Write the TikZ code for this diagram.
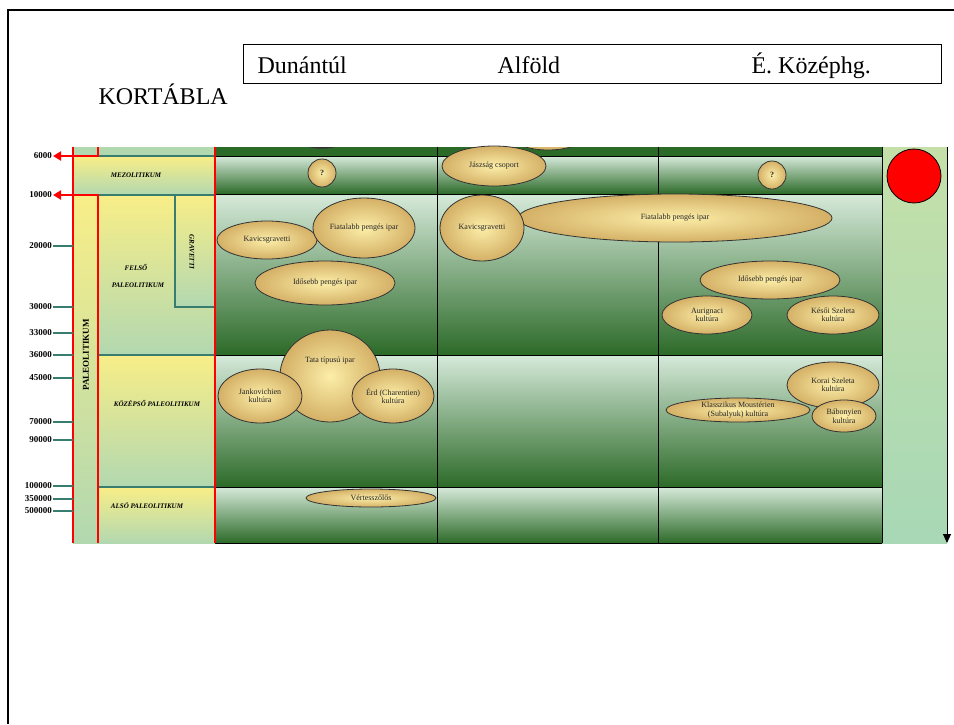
\documentclass[tikz,border=0pt]{standalone}
\usepackage{fontspec}
\setmainfont{Liberation Serif}
\usetikzlibrary{shapes.geometric,arrows.meta}

\definecolor{cellTop}{RGB}{214,234,218}
\definecolor{cellMid}{RGB}{112,160,106}
\definecolor{cellBot}{RGB}{44,106,40}
\definecolor{perYel}{RGB}{248,238,136}
\definecolor{perGrn}{RGB}{178,216,176}
\definecolor{tickTeal}{RGB}{56,126,112}
\definecolor{cultIn}{RGB}{252,238,168}
\definecolor{cultOut}{RGB}{212,176,102}
\definecolor{sideTop}{RGB}{196,224,168}
\definecolor{sideBot}{RGB}{168,216,182}

\begin{document}
\begin{tikzpicture}[x=1pt,y=-1pt,
  cult/.style = {draw=black!80, line width=0.8pt, ellipse, inner sep=0pt,
    inner color=cultIn, outer color=cultOut, align=center, text=black!85,
    font=\fontsize{8}{8.5}\selectfont},
  per/.style = {font=\fontsize{7}{8}\selectfont\bfseries\itshape, inner sep=0pt},
  yr/.style = {anchor=east, font=\fontsize{9}{9}\selectfont\bfseries, inner sep=1pt},
  tick/.style = {tickTeal, line width=2.5pt},
  sep/.style = {tickTeal, line width=2pt},
  redline/.style = {red, line width=2.5pt},
  hdr/.style = {anchor=base west, font=\fontsize{24}{24}\selectfont}]
\useasboundingbox (0,0) rectangle (954,724);
% frame
\draw[line width=2pt] (8,724) -- (8,10) -- (954,10);
% title and header
\node[hdr] (title) at (95,104) {KORTÁBLA};
\node (head) [draw, line width=0.8pt, anchor=north west, minimum width=698pt, minimum height=39pt] at (243,44) {};
\node[hdr] (dun) at (254,73) {Dunántúl};
\node[hdr] (alf) at (494,73) {Alföld};
\node[hdr] (koz) at (748,73) {É. Középhg.};

% time column
\shade[top color=sideTop, bottom color=sideBot] (882,147) rectangle (947,543);

% grid cells
\fill[cellBot] (215,147) rectangle (882,156);
\foreach \ya/\yb in {156/194,194/355,355/487,487/543}
  \shade[top color=cellTop, middle color=cellMid, bottom color=cellBot] (215,\ya) rectangle (882,\yb);
\begin{scope}
\clip (215,147) rectangle (882,155.5);
\shade[draw=black!80, line width=1.5pt, inner color=cultIn, outer color=cultOut] (322,137) ellipse (24 and 11);
\shade[draw=black!80, line width=0.8pt, inner color=cultIn, outer color=cultOut] (548,127) ellipse (46 and 23);
\end{scope}
\foreach \yy in {156,194,355,487,543}
  \draw[black, line width=1pt] (215,\yy) -- (882,\yy);
\foreach \xx in {437,658,882}
  \draw[black, line width=1pt] (\xx,147) -- (\xx,543);

% period column
\fill[perGrn] (73,147) rectangle (215,156);
\shade[top color=perYel, bottom color=perGrn] (73,156) rectangle (215,195);
\shade[top color=perYel, bottom color=perGrn] (98,195) rectangle (215,355);
\shade[top color=perYel, bottom color=perGrn] (175,195) rectangle (215,307);
\shade[top color=perYel, bottom color=perGrn] (98,355) rectangle (215,487);
\shade[top color=perYel, bottom color=perGrn] (98,487) rectangle (215,543);
\shade[top color=perYel, bottom color=perGrn] (73,195) rectangle (98,543);
\draw[sep] (98,156) -- (215,156);
\draw[sep] (98,195) -- (215,195);
\draw[sep] (175,195) -- (175,307) -- (215,307);
\draw[sep] (98,355) -- (215,355);
\draw[sep] (98,487) -- (215,487);
\node[per] (mez) at (136,175) {MEZOLITIKUM};
\node[per] (fel) at (136,267) {FELSŐ};
\node[per] (felp) at (138,285) {PALEOLITIKUM};
\node[per, rotate=-90] (grav) at (192,252) {GRAVETTI};
\node[per] (kozp) at (157,403) {KÖZÉPSŐ PALEOLITIKUM};
\node[per] (alsp) at (147,506) {ALSÓ PALEOLITIKUM};
\node[font=\fontsize{9}{9}\selectfont\bfseries, rotate=90, inner sep=0pt] (pal) at (86,355) {PALEOLITIKUM};

% red lines
\draw[redline] (73,147) -- (73,543);
\draw[redline] (98,147) -- (98,156) -- (73,156);
\draw[redline] (73,195) -- (98,195) -- (98,543);
\draw[redline] (215,147) -- (215,543);

% years
\node[yr] (y6000) at (53,156) {6000};
\node[yr] (y10000) at (53,195) {10000};
\draw[red, line width=2pt, -{Triangle[length=8pt,width=9pt]}] (73,156) -- (y6000.east);
\draw[red, line width=2pt, -{Triangle[length=8pt,width=9pt]}] (73,195) -- (y10000.east);
\foreach \v/\yy in {20000/246,30000/307,33000/333,36000/355,45000/378,70000/422,
    90000/440,100000/486,350000/499,500000/511} {
  \node[yr] (y\v) at (53,\yy) {\v};
  \draw[tick] (y\v.east) -- (73,\yy);
}

% Dunantul
\node[cult, minimum width=28pt, minimum height=28pt] (dq) at (322,173) {\textbf{?}};
\node[cult, minimum width=100pt, minimum height=38pt] (dkav) at (267,240) {Kavicsgravetti};
\node[cult, minimum width=102pt, minimum height=60pt] (dfia) at (364,228) {Fiatalabb pengés ipar};
\node[cult, minimum width=140pt, minimum height=44pt] (dido) at (325,283) {Idősebb pengés ipar};
\node[cult, minimum width=100pt, minimum height=92pt] (tata) at (330,376) {Tata típusú ipar\\[24pt]};
\node[cult, minimum width=84pt, minimum height=54pt] (jank) at (260,396) {Jankovichien\\kultúra};
\node[cult, minimum width=82pt, minimum height=54pt] (erd) at (393,396) {Érd (Charentien)\\kultúra};
\node[cult, minimum width=130pt, minimum height=18pt] (vert) at (371,498) {Vértesszőlős};

% Alfold
\node[cult, minimum width=104pt, minimum height=40pt] (jasz) at (494,166) {Jászság csoport};
\node[cult, minimum width=314pt, minimum height=48pt] (afia) at (675,218) {Fiatalabb pengés ipar};
\node[cult, minimum width=84pt, minimum height=66pt] (akav) at (482,228) {Kavicsgravetti};

% E. Kozephg.
\node[cult, minimum width=28pt, minimum height=28pt] (kq) at (772,175) {\textbf{?}};
\node[cult, minimum width=140pt, minimum height=38pt] (kido) at (770,280) {Idősebb pengés ipar};
\node[cult, minimum width=90pt, minimum height=38pt] (aur) at (707,315) {Aurignaci\\kultúra};
\node[cult, minimum width=92pt, minimum height=38pt] (kes) at (833,315) {Késői Szeleta\\kultúra};
\node[cult, minimum width=92pt, minimum height=46pt] (kor) at (833,385) {Korai Szeleta\\kultúra};
\node[cult, minimum width=144pt, minimum height=24pt] (klas) at (738,410) {Klasszikus Moustérien\\(Subalyuk) kultúra};
\node[cult, minimum width=64pt, minimum height=32pt] (bab) at (844,416) {Bábonyien\\kultúra};

% sun and time arrow
\node (sun) [circle, fill=red, draw=black, line width=0.8pt, minimum size=54pt, inner sep=0pt] at (914,176) {};
\coordinate (tstart) at (947,147);
\coordinate (tend) at (947,543);
\draw[line width=1pt, -{Triangle[length=9pt,width=8pt]}] (tstart) -- (tend);
\end{tikzpicture}
\end{document}
